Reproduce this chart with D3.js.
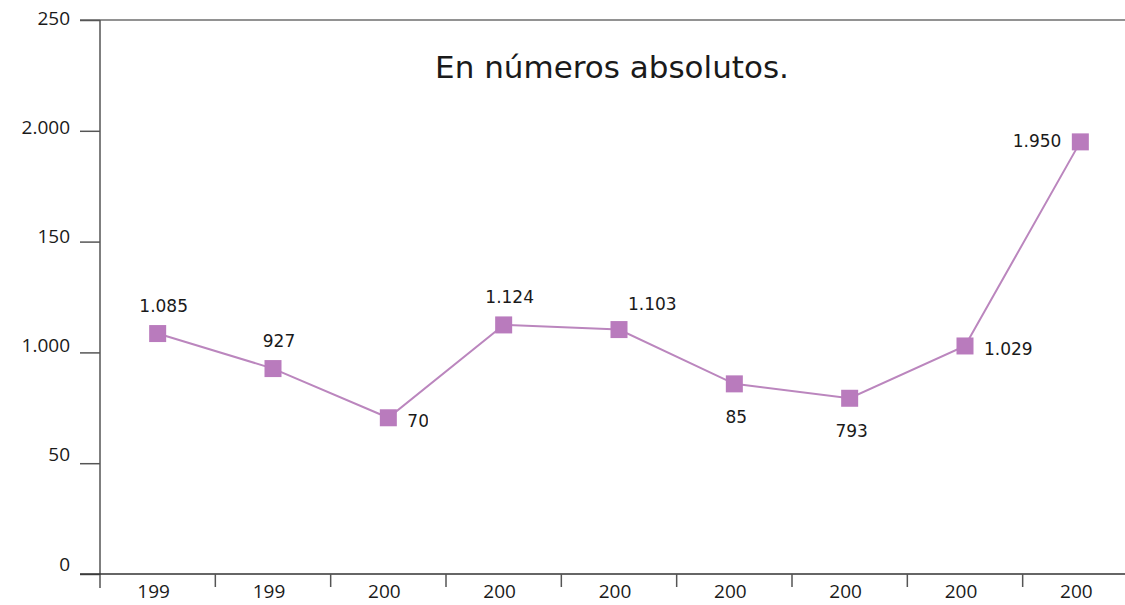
<!DOCTYPE html>
<html>
<head>
<meta charset="utf-8">
<script src="https://cdn.jsdelivr.net/npm/d3@7"></script>
<style>
  html, body { margin: 0; padding: 0; background: #fff; }
  svg { display: block; }
</style>
</head>
<body>
<script>
// Year categories as printed under the axis
const yearLabels = ["199", "199", "200", "200", "200", "200", "200", "200", "200"];
// Absolute numbers per year
const values = [1085, 927, 705, 1124, 1103, 858, 793, 1029, 1950];
// Labels whose last digit is cut off in the printed chart
const cutLabels = [false, false, true, false, false, true, false, false, false];
// Where each value label sits relative to its marker
const labelSide = ["top", "top", "right", "top", "topright", "bottom", "bottom", "right", "left"];
// Y axis tick values and their printed labels
const yTicks = [0, 500, 1000, 1500, 2000, 2500];
const yTickLabels = ["0", "50", "1.000", "150", "2.000", "250"];
const title = "En números absolutos.";

const W = 1125, H = 605;
const svg = d3.select("body").append("svg").attr("width", W).attr("height", H);

const x = d3.scaleBand().domain(d3.range(values.length)).range([100, 1138]).padding(0);
const y = d3.scaleLinear().domain([0, 2500]).range([574, 20]);

const fmt = d3.formatLocale({ decimal: ",", thousands: ".", grouping: [3], currency: ["", ""] }).format(",d");
const cx = i => x(i) + x.bandwidth() / 2;

// Top frame line
svg.append("line")
  .attr("x1", 80).attr("x2", W).attr("y1", y(2500)).attr("y2", y(2500))
  .attr("stroke", "#6e6e6e").attr("stroke-width", 1.6);

// Y axis
const yAxis = svg.append("g")
  .attr("transform", "translate(100,0)")
  .call(d3.axisLeft(y).tickValues(yTicks).tickSize(20).tickPadding(10)
    .tickFormat((d, i) => yTickLabels[i]));
yAxis.select(".domain").remove();
yAxis.selectAll(".tick line").attr("stroke", "#555").attr("stroke-width", 1.5);
yAxis.selectAll(".tick text")
  .attr("font-family", "'Open Sans', sans-serif").attr("font-size", 19)
  .attr("fill", "#1a1a1a").attr("dy", (d, i) => (-4 + 1.7 * i) + "px");

svg.append("line")
  .attr("x1", 100).attr("x2", 100).attr("y1", y(2500)).attr("y2", 588)
  .attr("stroke", "#555").attr("stroke-width", 1.5);

// X axis
const xAxis = svg.append("g")
  .attr("transform", `translate(0,${y(0)})`)
  .call(d3.axisBottom(x).tickSize(0).tickPadding(11).tickFormat(i => yearLabels[i]));
xAxis.select(".domain").remove();
xAxis.selectAll(".tick text")
  .attr("font-family", "'Open Sans', sans-serif").attr("font-size", 19)
  .attr("fill", "#1a1a1a").attr("dx", "-4px");

svg.append("line")
  .attr("x1", 80).attr("x2", W).attr("y1", y(0)).attr("y2", y(0))
  .attr("stroke", "#333").attr("stroke-width", 1.6);

svg.append("g").selectAll("line")
  .data(d3.range(1, values.length))
  .join("line")
  .attr("x1", i => x(i)).attr("x2", i => x(i))
  .attr("y1", y(0)).attr("y2", y(0) + 13)
  .attr("stroke", "#555").attr("stroke-width", 1.5);

// Title
svg.append("text")
  .attr("x", 612).attr("y", 78)
  .attr("text-anchor", "middle")
  .attr("font-family", "'DejaVu Sans', sans-serif").attr("font-size", 31)
  .attr("fill", "#1a1a1a")
  .text(title);

// Series line
const line = d3.line().x((d, i) => cx(i)).y(d => y(d));
svg.append("path")
  .datum(values)
  .attr("d", line)
  .attr("fill", "none")
  .attr("stroke", "#bb86be").attr("stroke-width", 2);

// Square markers
const ms = 17;
svg.append("g").selectAll("rect")
  .data(values)
  .join("rect")
  .attr("x", (d, i) => cx(i) - ms / 2)
  .attr("y", d => y(d) - ms / 2)
  .attr("width", ms).attr("height", ms)
  .attr("fill", "#b97bbd");

// Value labels
const offsets = {
  top:      { dx: 6,   dy: -22, anchor: "middle" },
  topright: { dx: 9,   dy: -20, anchor: "start" },
  right:    { dx: 19,  dy: 9,   anchor: "start" },
  bottom:   { dx: 2,   dy: 39,  anchor: "middle" },
  left:     { dx: -19, dy: 5,   anchor: "end" }
};
const defs = svg.append("defs");
const labels = svg.append("g")
  .attr("font-family", "'DejaVu Sans', sans-serif").attr("font-size", 17)
  .attr("fill", "#1a1a1a");

values.forEach((v, i) => {
  const o = offsets[labelSide[i]];
  const t = labels.append("text")
    .attr("y", y(v) + o.dy)
    .text(fmt(v));
  if (cutLabels[i]) {
    // Only the leading digits are printed: clip the trailing one
    const shown = t.node().getSubStringLength(0, fmt(v).length - 1);
    let x0 = cx(i) + o.dx;
    if (o.anchor === "middle") x0 = cx(i) + o.dx - shown / 2;
    if (o.anchor === "end") x0 = cx(i) + o.dx - shown;
    t.attr("x", x0).attr("text-anchor", "start");
    const id = "cut" + i;
    defs.append("clipPath").attr("id", id)
      .append("rect")
      .attr("x", x0 - 2).attr("y", y(v) + o.dy - 20)
      .attr("width", shown + 1).attr("height", 26);
    t.attr("clip-path", `url(#${id})`);
  } else {
    t.attr("x", cx(i) + o.dx).attr("text-anchor", o.anchor);
  }
});
</script>
</body>
</html>
